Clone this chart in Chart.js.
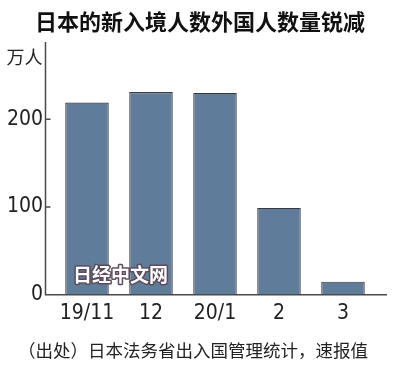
<!DOCTYPE html>
<html>
<head>
<meta charset="utf-8">
<script src="https://cdn.jsdelivr.net/npm/chart.js@4"></script>
<style>
  html, body { margin: 0; padding: 0; background: #fff; }
</style>
</head>
<body>
<canvas id="chart" width="400" height="372"></canvas>
<script>
const months = ['19/11', '12', '20/1', '2', '3'];
const arrivals = [219, 231, 230, 99, 15]; // 万人
const yTicks = [0, 100, 200];

const cjk = '"Noto Sans CJK SC", "Noto Sans", sans-serif';
const narrow = '"Liberation Sans Narrow", "DejaVu Sans Condensed", "Roboto", sans-serif';

// title, axis lines, inner ticks, unit label, watermark and source note
const decor = {
    id: 'decor',
    afterDatasetsDraw(chart) {
        const { ctx, chartArea, scales, width } = chart;
        const ax = chartArea.left - 9.5;
        const base = scales.y.getPixelForValue(0);
        ctx.save();
        ctx.strokeStyle = '#4a4a4a';
        ctx.lineWidth = 1.5;
        ctx.beginPath();
        ctx.moveTo(ax, chartArea.top);
        ctx.lineTo(ax, base);
        ctx.lineTo(chartArea.right + 12, base);
        yTicks.filter(v => v > 0).forEach(v => {
            const y = scales.y.getPixelForValue(v);
            ctx.moveTo(ax, y);
            ctx.lineTo(ax + 5, y);
        });
        ctx.stroke();

        ctx.textBaseline = 'middle';
        ctx.fillStyle = '#111';
        ctx.font = 'bold 22px ' + cjk;
        ctx.textAlign = 'center';
        ctx.fillText('日本的新入境人数外国人数量锐减', width / 2, 22);

        ctx.fillStyle = '#222';
        ctx.font = '18px ' + cjk;
        ctx.textAlign = 'right';
        ctx.fillText('万人', ax - 3, chartArea.top + 15);

        ctx.font = 'bold 19px ' + cjk;
        ctx.textAlign = 'left';
        ctx.lineJoin = 'round';
        ctx.lineWidth = 3;
        ctx.strokeStyle = '#5a4a5c';
        ctx.strokeText('日经中文网', 73, base - 20);
        ctx.fillStyle = '#fff';
        ctx.fillText('日经中文网', 73, base - 20);

        ctx.fillStyle = '#222';
        ctx.font = '17.5px ' + cjk;
        ctx.fillText('（出处）日本法务省出入国管理统计，速报值', 18, 350);
        ctx.restore();
    }
};

new Chart(document.getElementById('chart'), {
    type: 'bar',
    data: {
        labels: months,
        datasets: [{
            data: arrivals,
            backgroundColor: '#5f7d9b',
            borderColor: '#3a3a3e',
            borderWidth: 1.2,
            borderSkipped: 'bottom',
            barPercentage: 0.68,
            categoryPercentage: 1,
        }]
    },
    options: {
        responsive: false,
        animation: false,
        layout: { padding: { left: 0, right: 25, top: 42, bottom: 40 } },
        plugins: {
            legend: { display: false },
            tooltip: { enabled: false },
            title: { display: false }
        },
        scales: {
            x: {
                grid: { display: false, drawTicks: false },
                border: { display: false },
                ticks: {
                    color: '#222',
                    padding: 6,
                    font: { family: narrow, size: 21 }
                }
            },
            y: {
                min: 0,
                max: 288,
                grid: { display: false, drawTicks: false },
                border: { display: false },
                afterFit(scale) { scale.width = 55; },
                afterBuildTicks(scale) { scale.ticks = yTicks.map(v => ({ value: v })); },
                ticks: {
                    color: '#222',
                    padding: 12,
                    font: { family: narrow, size: 21 }
                }
            }
        }
    },
    plugins: [decor]
});
</script>
</body>
</html>
